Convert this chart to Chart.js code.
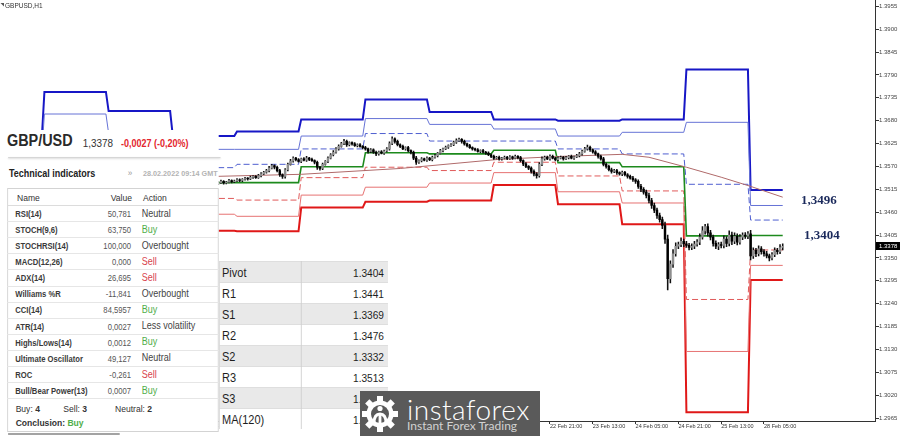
<!DOCTYPE html>
<html><head><meta charset="utf-8">
<script src="https://cdn.jsdelivr.net/npm/chart.js@4.4.1/dist/chart.umd.min.js"></script>
<style>
html,body{margin:0;padding:0;background:#fff;}
#wrap{position:relative;width:900px;height:436px;overflow:hidden;font-family:"Liberation Sans",Arial,sans-serif;}
#c{position:absolute;left:0;top:0;}
.abs{position:absolute;white-space:nowrap;}
.nm{font:bold 8.5px/8.5px "Liberation Sans";color:#3a3a3a;}
.vl{font:8.5px/8.5px "Liberation Sans";color:#555;text-align:right;}
.ac{font:10px/10px "Liberation Sans";color:#444;}
.buy{color:#4fae4a;}
.sell{color:#d9434e;}
.prow{position:absolute;left:0;width:192px;height:21px;}
.plab{position:absolute;left:3.4px;top:0;font:12.5px/21px "Liberation Sans";color:#1e1e1e;padding-top:1px;}
.pval{position:absolute;right:4.5px;top:0;font:11.5px/21px "Liberation Sans";color:#1e1e1e;padding-top:1px;}
</style></head><body>
<div id="wrap">
<canvas id="c" width="900" height="436"></canvas>

<svg class="abs" style="left:0;top:2px" width="5" height="6"><path d="M0.5 1 L4 1 L4 4.5 Z" fill="#555"/></svg>
<div class="abs" style="left:5px;top:1.5px;font:6.5px/7px 'Liberation Sans';color:#333">GBPUSD,H1</div>

<div class="abs" style="left:801px;top:193px;font:bold 13px/13px 'Liberation Serif';color:#1b2a5c">1,3496</div>
<div class="abs" style="left:804px;top:228px;font:bold 13px/13px 'Liberation Serif';color:#1b2a5c">1,3404</div>

<div id="panel" class="abs" style="left:0;top:130px;width:243px;height:306px;background:#fff;transform:scaleX(0.9);transform-origin:0 0;">
  <div class="abs" style="left:7.8px;top:3px;font:bold 16px/16px 'Liberation Sans';color:#2a2a2a">GBP/USD</div>
  <div class="abs" style="left:92px;top:7.7px;font:11px/11px 'Liberation Sans';color:#333">1,3378</div>
  <div class="abs" style="left:134.4px;top:8.5px;font:bold 10px/10px 'Liberation Sans';color:#e3262d">-0,0027 (-0,20%)</div>
  <div class="abs" style="left:8.9px;top:26.5px;width:236px;height:1px;background:#d6d6d6;box-shadow:0 1px 2px rgba(0,0,0,0.18)"></div>
  <div class="abs" style="left:10px;top:38.5px;font:bold 10px/10px 'Liberation Sans';color:#222">Technical indicators</div>
  <div class="abs" style="left:142px;top:39px;font:9px/9px 'Liberation Sans';color:#999">»</div>
  <div class="abs" style="left:159px;top:40.2px;font:bold 8px/8px 'Liberation Sans';color:#b3b3b3">28.02.2022 09:14 GMT</div>
  <div class="abs" style="left:7.8px;top:58px;width:235px;height:244px;border:1px solid #d3d3d3;box-sizing:border-box"></div>
  <div class="abs" style="left:18.9px;top:63px;font:9.5px/9.5px 'Liberation Sans';color:#333">Name</div>
  <div class="abs" style="left:96px;width:50.7px;text-align:right;top:63px;font:9.5px/9.5px 'Liberation Sans';color:#333">Value</div>
  <div class="abs" style="left:158.9px;top:63px;font:9.5px/9.5px 'Liberation Sans';color:#333">Action</div>
  <div class="abs" style="left:7.8px;top:75px;width:235px;height:1px;background:#dcdcdc"></div>
  <div id="rows"></div>
  <div class="abs" style="left:17.4px;top:274.3px;font:9.5px/9.5px 'Liberation Sans';color:#333">Buy: <b>4</b></div>
  <div class="abs" style="left:70.4px;top:274.3px;font:9.5px/9.5px 'Liberation Sans';color:#333">Sell: <b>3</b></div>
  <div class="abs" style="left:127.8px;top:274.3px;font:9.5px/9.5px 'Liberation Sans';color:#333">Neutral: <b>2</b></div>
  <div class="abs" style="left:17.4px;top:287.6px;font:bold 9.5px/9.5px 'Liberation Sans';color:#333">Conclusion: <span class="buy">Buy</span></div>
  <div class="abs" style="left:8.9px;top:303px;width:124px;height:2px;background:#a3a3a3"></div>
</div>

<div id="pivot" class="abs" style="left:219px;top:258px;width:193px;height:178px;background:#fff;transform:scaleX(0.88);transform-origin:0 0;">
  <div id="prows"></div>
  <div class="abs" style="left:93px;top:3px;width:1px;height:168px;background:#cfcfcf"></div>
  <div class="abs" style="left:0;top:3px;width:1px;height:168px;background:#dadada"></div>
</div>

<div id="logo" class="abs" style="left:360px;top:391px;width:180px;height:45px;background:#5a5a5a;">
  <svg class="abs" style="left:2px;top:3px" width="36" height="40" viewBox="0 0 36 40">
    <g fill="#fff" transform="translate(18,20)">
      <circle r="13.5"/>
      <rect x="-3" y="-18" width="6" height="6" transform="rotate(0)"/>
      <rect x="-3" y="-18" width="6" height="6" transform="rotate(45)"/>
      <rect x="-3" y="-18" width="6" height="6" transform="rotate(90)"/>
      <rect x="-3" y="-18" width="6" height="6" transform="rotate(135)"/>
      <rect x="-3" y="-18" width="6" height="6" transform="rotate(180)"/>
      <rect x="-3" y="-18" width="6" height="6" transform="rotate(225)"/>
      <rect x="-3" y="-18" width="6" height="6" transform="rotate(270)"/>
      <rect x="-3" y="-18" width="6" height="6" transform="rotate(315)"/>
    </g>
    <circle cx="18" cy="20" r="9" fill="#5a5a5a"/>
    <circle cx="18" cy="14.5" r="2.6" fill="#fff"/>
    <path d="M10.5 29 Q10.5 18.5 18 18.5 Q25.5 18.5 25.5 29 L22.5 29 Q22.5 21.5 18 21.5 Q13.5 21.5 13.5 29 Z" fill="#fff"/>
    <rect x="16.6" y="21" width="2.8" height="10" fill="#fff"/>
  </svg>
  <div class="abs" style="left:47px;top:3.5px;font:300 28px/28px Lato,'Open Sans',sans-serif;letter-spacing:0.5px;color:#fff">instaforex</div>
  <div class="abs" style="left:47px;top:29px;font:12px/12px Lato,'Open Sans',sans-serif;color:#d2d2d2">Instant Forex Trading</div>
</div>
</div>

<script>
// ---------- data ----------
const xTickBars = [-3, 13, 29, 45, 61, 77, 93, 109, 125, 141, 157, 173, 189, 205, 221, 237, 253, 269];
const xTickLabels = ['10 Feb 21:00','11 Feb 13:00','14 Feb 05:00','14 Feb 21:00','15 Feb 13:00','16 Feb 05:00','16 Feb 21:00','17 Feb 13:00','18 Feb 05:00','18 Feb 21:00','21 Feb 13:00','22 Feb 05:00','22 Feb 21:00','23 Feb 13:00','24 Feb 05:00','24 Feb 21:00','25 Feb 13:00','28 Feb 05:00'];
const yTicks = [1.2965,1.3020,1.3075,1.3130,1.3185,1.3240,1.3295,1.3350,1.3405,1.3460,1.3515,1.3570,1.3625,1.3680,1.3735,1.3790,1.3845,1.3900,1.3955];

const firstBar = 62;
const firstOpen = 1.3532;
const closes = [
 1.3530,1.3533,1.3528,1.3531,1.3534,1.3530,1.3532,1.3536,1.3533,1.3535,1.3538,1.3536,
 1.3539,1.3541,1.3540,1.3544,1.3546,1.3543,1.3548,1.3552,1.3556,
 1.3560,1.3566,1.3572,1.3568,1.3560,
 1.3550,1.3546,
 1.3562,1.3575,1.3583,1.3590,1.3586,
 1.3582,1.3588,1.3585,1.3590,1.3587,1.3584,1.3580,
 1.3568,1.3565,
 1.3575,1.3582,1.3590,1.3598,1.3604,
 1.3612,1.3618,1.3625,1.3630,1.3622,1.3627,
 1.3624,1.3620,1.3622,1.3618,1.3615,
 1.3612,1.3606,1.3610,1.3604,1.3600,1.3605,1.3602,1.3607,1.3612,
 1.3625,1.3636,1.3630,
 1.3622,1.3618,1.3612,1.3615,1.3608,1.3604,
 1.3590,1.3580,1.3584,
 1.3588,1.3585,1.3590,1.3586,1.3592,1.3596,
 1.3602,1.3608,1.3612,1.3616,1.3620,1.3622,
 1.3628,1.3632,1.3635,1.3630,
 1.3624,1.3620,1.3615,1.3612,
 1.3610,1.3606,1.3608,1.3604,1.3602,
 1.3598,1.3594,1.3590,1.3592,1.3588,
 1.3590,1.3592,1.3589,1.3593,1.3590,1.3594,1.3591,
 1.3584,1.3576,1.3570,1.3566,
 1.3558,1.3552,1.3548,
 1.3575,1.3588,1.3592,1.3588,1.3594,1.3590,1.3586,1.3590,
 1.3592,1.3588,1.3591,1.3594,1.3590,1.3593,1.3596,1.3600,
 1.3606,1.3612,1.3616,1.3610,1.3605,
 1.3600,1.3594,1.3588,
 1.3575,1.3570,
 1.3562,1.3558,1.3560,1.3555,1.3552,1.3556,1.3550,
 1.3546,1.3542,1.3538,1.3534,
 1.3522,1.3515,1.3508,1.3500,
 1.3488,1.3476,1.3465,
 1.3452,1.3442,
 1.3428,1.3395,
 1.3300,1.3335,1.3360,1.3378,
 1.3382,1.3390,1.3384,
 1.3380,1.3375,1.3378,1.3383,1.3388,
 1.3400,1.3415,1.3425,
 1.3410,1.3400,
 1.3385,1.3378,1.3382,1.3380,
 1.3395,1.3385,1.3405,1.3390,1.3402,1.3388,
 1.3400,1.3405,1.3402,1.3408,
 1.3355,
 1.3368,1.3360,1.3372,1.3365,
 1.3360,1.3355,1.3350,1.3358,
 1.3368,1.3365,1.3375,1.3378
];
// upper / lower wick lengths in pips (0.0001)
const upWick = [
 2,3,2,2,3,2,2,3,2,2,3,2, 2,3,2,3,2,2,3,3,2, 3,4,3,2,3, 3,2, 3,3,4,3,2, 3,2,3,4,2,3,2, 3,2,
 3,2,3,3,4, 3,4,3,5,3,2, 2,3,2,3,2, 3,2,3,2,3,2,3,2,3, 4,5,3, 3,2,3,2,3,2, 3,4,2, 3,2,3,2,3,3,
 2,3,2,3,2,3, 3,4,3,2, 3,2,3,2, 2,3,2,3,2, 3,2,3,2,3, 2,3,2,3,2,3,2, 3,2,3,2, 3,4,3,
 4,5,3,3,4,3,2,3, 3,2,3,2,3,2,3,4, 3,4,5,3,2, 3,2,3, 4,3, 3,4,3,3,2,3,2, 3,3,4,3, 4,5,4,5,
 6,5,6, 5,6, 6,8, 10,8,10,8, 6,8,5, 6,5,6,7,6, 8,10,6, 7,6, 5,6,5,6, 8,6,10,7,8,6, 6,5,6,5,
 8, 6,5,7,5, 5,6,4,5, 6,5,7,6
];
const dnWick = [
 3,2,3,2,2,3,2,2,3,2,2,3, 3,2,3,2,3,2,2,3,2, 2,3,2,4,3, 4,5, 4,3,2,3,3, 2,3,2,3,3,2,4, 5,4,
 3,2,3,2,3, 2,3,2,3,4,3, 3,2,3,2,3, 3,4,3,3,4,3,2,3,2, 3,3,4, 3,3,2,3,3,4, 4,5,3, 3,2,3,2,3,2,
 3,2,3,2,3,2, 2,3,2,4, 3,3,2,3, 3,2,3,2,3, 2,3,3,2,3, 3,2,3,2,3,2,3, 3,4,3,4, 4,5,6,
 4,3,3,2,3,2,3,2, 2,3,2,3,2,3,2,3, 3,2,3,4,3, 3,4,3, 4,4, 3,4,3,4,3,4,3, 4,3,4,5, 5,6,5,6,
 6,7,6, 7,6, 8,10, 27,10,8,6, 6,5,7, 5,6,5,6,5, 6,5,8, 8,7, 7,6,8,6, 6,8,6,8,6,7, 5,6,5,6,
 10, 6,7,5,6, 6,5,7,5, 5,6,5,6
];

// daily pivot levels (one value per trading day, 10 Feb .. 28 Feb)
const dayStarts = [-24, 0, 24, 48, 72, 96, 120, 144, 168, 192, 216, 240, 264];
const dayEnds   = [-1, 23, 47, 71, 95, 119, 143, 167, 191, 215, 239, 263, 276];
const r3 = [1.3635,1.3749,1.3703,1.3643,1.3654,1.3683,1.3731,1.3701,1.3683,1.3680,1.3683,1.3803,1.3513];
const r2 = [1.3599,1.3696,1.3650,1.3611,1.3611,1.3643,1.3685,1.3671,1.3660,1.3643,1.3652,1.3676,1.3476];
const r1 = [1.3563,1.3645,1.3610,1.3567,1.3575,1.3612,1.3649,1.3631,1.3631,1.3612,1.3600,1.3527,1.3441];
const pv = [1.3527,1.3600,1.3575,1.3531,1.3531,1.3569,1.3603,1.3600,1.3609,1.3579,1.3569,1.3403,1.3404];
const s1 = [1.3491,1.3560,1.3540,1.3493,1.3489,1.3543,1.3568,1.3560,1.3580,1.3547,1.3511,1.3250,1.3369];
const s2 = [1.3455,1.3515,1.3500,1.3455,1.3450,1.3501,1.3520,1.3530,1.3555,1.3509,1.3482,1.3125,1.3332];
const s3 = [1.3419,1.3470,1.3460,1.3415,1.3414,1.3471,1.3485,1.3488,1.3525,1.3479,1.3431,1.2979,1.3297];

const maBars   = [64, 96, 133, 170, 193, 216, 226, 240, 253, 264, 276];
const maValues = [1.3546,1.3551,1.3565,1.3587,1.3594,1.3599,1.3592,1.3568,1.3544,1.3522,1.3496];

const indNames = ['RSI(14)','STOCH(9,6)','STOCHRSI(14)','MACD(12,26)','ADX(14)','Williams %R','CCI(14)','ATR(14)','Highs/Lows(14)','Ultimate Oscillator','ROC','Bull/Bear Power(13)'];
const indValues = ['50,781','63,750','100,000','0,000','26,695','-11,841','84,5957','0,0027','0,0012','49,127','-0,261','0,0007'];
const indActions = ['Neutral','Buy','Overbought','Sell','Sell','Overbought','Buy','Less volatility','Buy','Neutral','Sell','Buy'];

const pivotNames = ['Pivot','R1','S1','R2','S2','R3','S3','MA(120)'];
const pivotValues = ['1.3404','1.3441','1.3369','1.3476','1.3332','1.3513','1.3297','1.3496'];

// ---------- html tables ----------
(function(){
  const rows = document.getElementById('rows');
  let h = '';
  indNames.forEach((n,i)=>{
    const t = 75 + 16.1*i;
    const a = indActions[i];
    const cls = a==='Buy' ? 'ac buy' : (a==='Sell' ? 'ac sell' : 'ac');
    h += `<div class="abs" style="left:7.8px;top:${(t+16.1).toFixed(1)}px;width:235px;height:1px;background:#e6e6e6"></div>`;
    h += `<div class="abs nm" style="left:17px;top:${(t+4.8).toFixed(1)}px">${n}</div>`;
    h += `<div class="abs vl" style="left:96px;width:49.6px;top:${(t+4.8).toFixed(1)}px">${indValues[i]}</div>`;
    h += `<div class="abs ${cls}" style="left:157.4px;top:${(t+3.5).toFixed(1)}px">${a}</div>`;
  });
  rows.innerHTML = h;
  const pr = document.getElementById('prows');
  let p = '';
  pivotNames.forEach((n,i)=>{
    const t = 3 + 21*i;
    const bg = i%2===0 ? '#e9e9e9' : '#ffffff';
    p += `<div class="prow" style="top:${t}px;background:${bg};border-top:1px solid #dedede;box-sizing:border-box">`+
         `<div class="plab">${n}</div><div class="pval">${pivotValues[i]}</div></div>`;
  });
  pr.innerHTML = p;
})();

// ---------- chart ----------
Chart.defaults.font.family = "'Liberation Sans', Arial, sans-serif";
const bars = closes.map((c,i)=>firstBar+i);
const opens = closes.map((c,i)=> i===0 ? firstOpen : closes[i-1]);
const highs = closes.map((c,i)=> Math.max(opens[i], c) + upWick[i]*0.0001);
const lows  = closes.map((c,i)=> Math.min(opens[i], c) - dnWick[i]*0.0001);
const levelPts = vals => vals.flatMap((v,k)=>[{x:dayStarts[k], y:v},{x:dayEnds[k], y:v}]);
const lineDs = (vals, color, width, dash, order) => ({
  type:'line', data: levelPts(vals), borderColor: color, borderWidth: width,
  borderDash: dash, pointRadius: 0, tension: 0, fill: false, order: order
});

const lastPricePlugin = {
  id: 'lastPrice',
  afterDraw(chart) {
    const {ctx, scales:{y}, chartArea} = chart;
    const v = closes[closes.length-1];
    const py = Math.round(y.getPixelForValue(v));
    ctx.save();
    ctx.fillStyle = '#000';
    ctx.fillRect(chartArea.right+1, py-4, 24, 8);
    ctx.fillStyle = '#fff';
    ctx.font = "6px 'Liberation Sans'";
    ctx.textBaseline = 'middle';
    ctx.fillText(v.toFixed(4), chartArea.right+4, py+0.5);
    ctx.restore();
  }
};

new Chart(document.getElementById('c'), {
  type: 'bar',
  data: {
    datasets: [
      { type:'bar', data: bars.map((b,i)=>({x:b, y:[opens[i], closes[i]]})),
        backgroundColor: bars.map((b,i)=> closes[i] >= opens[i] ? '#8e8e8e' : '#000'),
        borderWidth: 0, barThickness: 1.8, grouped: false, minBarLength: 0.8, order: 0 },
      { type:'bar', data: bars.map((b,i)=>({x:b, y:[lows[i], highs[i]]})),
        backgroundColor: '#111', borderWidth: 0, barThickness: 0.9, grouped: false, order: 1 },
      { type:'line', data: maBars.map((b,i)=>({x:b, y:maValues[i]})), borderColor:'#b06a6a',
        borderWidth: 1, pointRadius: 0, tension: 0, fill: false, order: 2 },
      lineDs(pv, '#1d8a1d', 1.6, [], 3),
      lineDs(r1, '#4f5fd0', 1, [6,3], 4),
      lineDs(s1, '#e05a5a', 1, [6,3], 5),
      lineDs(r2, '#6673d6', 1, [], 6),
      lineDs(s2, '#e67272', 1, [], 7),
      lineDs(r3, '#1717c6', 2, [], 8),
      lineDs(s3, '#e01818', 2, [], 9)
    ]
  },
  options: {
    responsive: false, maintainAspectRatio: false, animation: false, devicePixelRatio: 1,
    layout: { padding: 0 },
    plugins: { legend: { display: false }, tooltip: { enabled: false } },
    scales: {
      x: {
        type: 'linear', position: 'bottom', min: -16.6, max: 310.5, offset: false,
        grid: { display: true, drawOnChartArea: false, drawTicks: true, tickLength: 3, color: '#333', offset: false },
        border: { display: true, color: '#333', width: 1 },
        ticks: { autoSkip: false, maxRotation: 0, minRotation: 0, align: 'start', padding: 0,
          color: '#333', font: { size: 5.5, lineHeight: 1 },
          callback: (v) => { const k = xTickBars.indexOf(v); return k >= 0 ? xTickLabels[k] : ''; } },
        afterBuildTicks: (s) => { s.ticks = xTickBars.map(v => ({ value: v })); },
        afterFit: (s) => { s.height = 15; }
      },
      y: {
        type: 'linear', position: 'right', min: 1.29578, max: 1.39694,
        grid: { display: true, drawOnChartArea: false, drawTicks: true, tickLength: 4, color: '#333' },
        border: { display: true, color: '#333', width: 1 },
        ticks: { padding: 0, color: '#444', font: { size: 6, lineHeight: 0.1 }, callback: (v) => Number(v).toFixed(4) },
        afterBuildTicks: (s) => { s.ticks = yTicks.map(v => ({ value: v })); },
        afterFit: (s) => { s.width = 25; }
      }
    }
  },
  plugins: [lastPricePlugin]
});
</script>
</body></html>
